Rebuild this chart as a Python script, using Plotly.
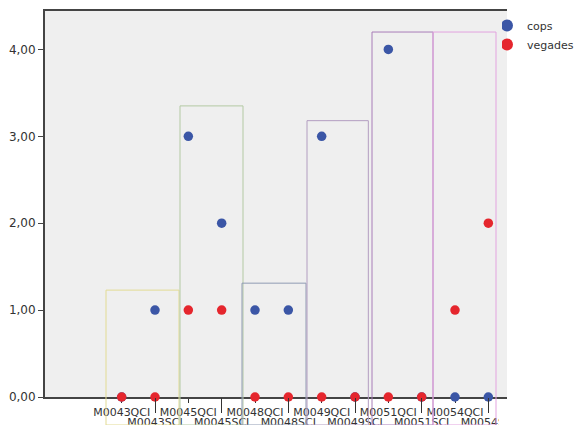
import plotly.graph_objects as go

# ---- data ----
categories = ["M0043QCI", "M0043SCI", "M0045QCI", "M0045SCI", "M0048QCI", "M0048SCI",
              "M0049QCI", "M0049SCI", "M0051QCI", "M0051SCI", "M0054QCI", "M0054SCI"]
cops = [0, 1, 3, 2, 1, 1, 3, 0, 4, 0, 0, 0]
vegades = [0, 0, 1, 1, 0, 0, 0, 0, 0, 0, 1, 2]
y_ticks = [0, 1, 2, 3, 4]

# group boxes (in category-index units / value units)
box_left = [-0.47, 1.75, 3.61, 5.56, 7.51, 9.34]
box_right = [1.72, 3.64, 5.53, 7.40, 9.34, 11.23]
box_top = [1.23, 3.35, 1.31, 3.18, 4.20, 4.20]
box_colors = ["#e2db93", "#b3c9a3", "#8f9bb3", "#b29dc0", "#a87cb8", "#e3a3df"]

# ---- layout constants ----
W, H = 577, 425
M = dict(l=45, r=70, t=11, b=28, autoexpand=False)
X_RANGE = [-2.30, 11.56]
Y_RANGE = [0, 4.442]
PW = W - M["l"] - M["r"]
PH = H - M["t"] - M["b"]

x = list(range(len(categories)))
FONT = "DejaVu Sans"

fig = go.Figure()
fig.add_trace(go.Scatter(x=x, y=cops, mode="markers", name="cops",
                         marker=dict(color="#3b56a6", size=9.5), cliponaxis=False))
# drawn on the overlaying axis (same range) so the second row of labels is rendered
fig.add_trace(go.Scatter(x=x, y=vegades, mode="markers", name="vegades", xaxis="x2",
                         marker=dict(color="#e5262d", size=9.5), cliponaxis=False))


def px(v):
    return (v - X_RANGE[0]) / (X_RANGE[1] - X_RANGE[0])


def py(v):
    return (v - Y_RANGE[0]) / (Y_RANGE[1] - Y_RANGE[0])


shapes = []
bottom = -M["b"] / PH
for l, r, t, c in zip(box_left, box_right, box_top, box_colors):
    shapes.append(dict(type="rect", xref="paper", yref="paper",
                       x0=px(l), x1=px(r), y0=bottom, y1=py(t),
                       line=dict(color=c, width=1), fillcolor="rgba(0,0,0,0)",
                       layer="above"))
# the reference image is cut just after the last category label
shapes.append(dict(type="rect", xref="paper", yref="paper",
                   x0=(499 - M["l"]) / PW, x1=(W - M["l"]) / PW + 0.01,
                   y0=bottom - 0.01, y1=-3 / PH,
                   line=dict(width=0), fillcolor="white", layer="above"))

even = [i for i in x if i % 2 == 0]
odd = [i for i in x if i % 2 == 1]

fig.update_layout(
    width=W, height=H, margin=M,
    paper_bgcolor="white", plot_bgcolor="#efefef",
    font=dict(family=FONT, size=12, color="#333333"),
    separators=",.",
    showlegend=True,
    legend=dict(xref="container", yref="container", x=502 / W, y=1 - 11 / H,
                xanchor="left", yanchor="top", indentation=-15,
                itemsizing="constant", font=dict(family=FONT, size=11, color="#333333"),
                bgcolor="rgba(0,0,0,0)", tracegroupgap=0),
    xaxis=dict(range=X_RANGE, tickmode="array", tickvals=even,
               ticktext=[categories[i] for i in even], tickangle=0, automargin=False,
               ticks="outside", ticklen=4, tickcolor="#333333", tickwidth=1,
               showline=True, linecolor="#444444", linewidth=2, mirror=True,
               showgrid=False, zeroline=False, layer="below traces",
               tickfont=dict(family=FONT, size=11, color="#333333")),
    xaxis2=dict(range=X_RANGE, overlaying="x", anchor="y", side="bottom",
                tickmode="array", tickvals=odd,
                ticktext=[categories[i] for i in odd], tickangle=0, automargin=False,
                ticks="outside", ticklen=15, tickcolor="#333333", tickwidth=1,
                showline=False, showgrid=False, zeroline=False,
                tickfont=dict(family=FONT, size=11, color="#333333")),
    yaxis=dict(range=Y_RANGE, tickmode="array", tickvals=y_ticks, tickformat=".2f",
               ticks="outside", ticklen=5, tickcolor="#444444", automargin=False,
               showline=True, linecolor="#444444", linewidth=2,
               showgrid=False, zeroline=False, layer="below traces",
               tickfont=dict(family=FONT, size=12, color="#333333")),
    shapes=shapes,
)

fig.write_html("out.html", config={"displayModeBar": False},
               post_script="document.body.style.margin='0';")
